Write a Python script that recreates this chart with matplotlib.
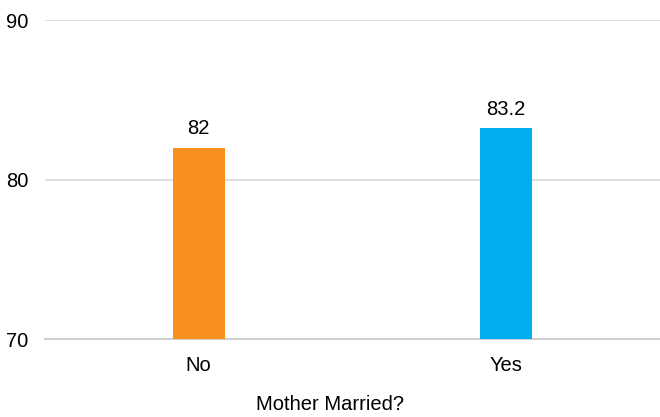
import matplotlib.pyplot as plt

categories = ["No", "Yes"]
values = [82, 83.2]
labels = ["82", "83.2"]
colors = ["#F7901E", "#00AEEF"]

plt.rcParams['font.family'] = ['Liberation Sans', 'DejaVu Sans']

fig = plt.figure(figsize=(6.6, 4.17), dpi=100)
ax = fig.add_axes([0.068, 0.187, 0.932, 0.765])

xs = list(range(len(categories)))
ax.bar(xs, [v - 70 for v in values], bottom=70, width=0.17, color=colors, zorder=3)
for x, v, t in zip(xs, values, labels):
    ax.text(x, v + 0.6, t, ha='center', va='bottom', fontsize=14.5, color='#000000')

ax.set_xlim(-0.5, 1.5)
ax.set_ylim(70, 90)
ax.set_yticks([70, 80, 90])
ax.set_xticks(xs)
ax.set_xticklabels(categories)
ax.tick_params(axis='both', length=0, labelsize=14.5, colors='#000000')
ax.tick_params(axis='x', pad=12)
ax.tick_params(axis='y', pad=12)
ax.yaxis.grid(True, color='#D9D9D9', linewidth=1.2, zorder=0)
for s in ['top', 'right', 'left']:
    ax.spines[s].set_visible(False)
ax.spines['bottom'].set_color('#D0D0D0')
ax.spines['bottom'].set_linewidth(1.5)
ax.set_xlabel("Mother Married?", fontsize=14.5)
# label is centred on the figure, not the axes
ax.xaxis.set_label_coords(0.463, -0.175)

fig.savefig("out.png", dpi=100)
